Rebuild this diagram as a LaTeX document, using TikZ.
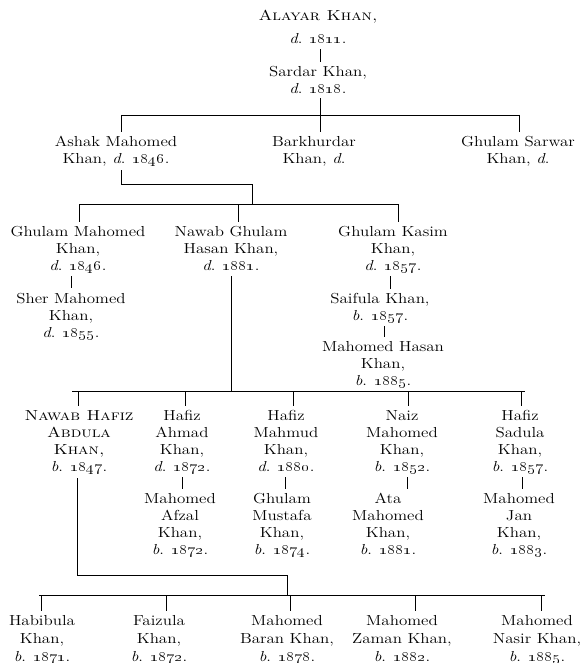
\documentclass[tikz,border=0pt]{standalone}
\usepackage{graphicx}
\newcommand{\nm}[1]{\scalebox{1.17}[1]{\begin{tabular}{@{}c@{}}#1\end{tabular}}}
\newcommand{\yr}[1]{\oldstylenums{#1}}
\begin{document}
\begin{tikzpicture}[x=1pt,y=-1pt,
  p/.style={inner sep=0pt,anchor=north,font=\fontsize{14.5}{17}\selectfont},
  ln/.style={line width=0.75pt},
  tk/.style={ln,shorten <=1pt,shorten >=2pt},
  tkend/.style={ln,shorten >=2pt}]
\fill[white] (0,0) rectangle (584,663);
\useasboundingbox (0,0) rectangle (584,663);
% generation 1-2
\node[p] (alayar) at (318,8) {\nm{\textsc{Alayar Khan,}\\[6pt]\textit{d}. \yr{1811}.}};
\node[p] (sardar) at (318,64) {\nm{Sardar Khan,\\\textit{d}. \yr{1818}.}};
% generation 3
\node[p] (ashak) at (116,134) {\nm{Ashak Mahomed\\Khan, \textit{d}. \yr{1846}.}};
\node[p] (barkh) at (314,134) {\nm{Barkhurdar\\Khan, \textit{d}.}};
\node[p] (sarwar) at (518,134) {\nm{Ghulam Sarwar\\Khan, \textit{d}.}};
% generation 4
\node[p] (gmah) at (78,224) {\nm{Ghulam Mahomed\\Khan,\\\textit{d}. \yr{1846}.}};
\node[p] (sher) at (71,291) {\nm{Sher Mahomed\\Khan,\\\textit{d}. \yr{1855}.}};
\node[p] (nawabg) at (231,224) {\nm{Nawab Ghulam\\Hasan Khan,\\\textit{d}. \yr{1881}.}};
\node[p] (kasim) at (393,224) {\nm{Ghulam Kasim\\Khan,\\\textit{d}. \yr{1857}.}};
\node[p] (saif) at (380,291) {\nm{Saifula Khan,\\\textit{b}. \yr{1857}.}};
\node[p] (mhasan) at (383,339) {\nm{Mahomed Hasan\\Khan,\\\textit{b}. \yr{1885}.}};
% generation 5
\node[p] (abdula) at (79,408) {\nm{\textsc{Nawab Hafiz}\\\textsc{Abdula}\\\textsc{Khan,}\\\textit{b}. \yr{1847}.}};
\node[p] (ahmad) at (182,408) {\nm{Hafiz\\Ahmad\\Khan,\\\textit{d}. \yr{1872}.}};
\node[p] (afzal) at (180,491) {\nm{Mahomed\\Afzal\\Khan,\\\textit{b}. \yr{1872}.}};
\node[p] (mahmud) at (286,408) {\nm{Hafiz\\Mahmud\\Khan,\\\textit{d}. \yr{1880}.}};
\node[p] (mustafa) at (282,491) {\nm{Ghulam\\Mustafa\\Khan,\\\textit{b}. \yr{1874}.}};
\node[p] (naiz) at (402,408) {\nm{Naiz\\Mahomed\\Khan,\\\textit{b}. \yr{1852}.}};
\node[p] (ata) at (388,491) {\nm{Ata\\Mahomed\\Khan,\\\textit{b}. \yr{1881}.}};
\node[p] (sadula) at (520,408) {\nm{Hafiz\\Sadula\\Khan,\\\textit{b}. \yr{1857}.}};
\node[p] (jan) at (519,491) {\nm{Mahomed\\Jan\\Khan,\\\textit{b}. \yr{1883}.}};
% generation 6
\node[p] (habib) at (42,613) {\nm{Habibula\\[1pt]Khan,\\[1pt]\textit{b}. \yr{1871}.}};
\node[p] (faiz) at (159,613) {\nm{Faizula\\[1pt]Khan,\\[1pt]\textit{b}. \yr{1872}.}};
\node[p] (baran) at (287,613) {\nm{Mahomed\\[1pt]Baran Khan,\\[1pt]\textit{b}. \yr{1878}.}};
\node[p] (zaman) at (402,613) {\nm{Mahomed\\[1pt]Zaman Khan,\\[1pt]\textit{b}. \yr{1882}.}};
\node[p] (nasir) at (537,613) {\nm{Mahomed\\[1pt]Nasir Khan,\\[1pt]\textit{b}. \yr{1885}.}};

% coordinates of junctions
\coordinate (j1) at (320,115);
\coordinate (b1l) at (121,115);
\coordinate (b1r) at (519,115);
\coordinate (b2) at (252,184);
\coordinate (b3) at (252,204);
\coordinate (b3l) at (79,204);
\coordinate (b3m) at (238,204);
\coordinate (b3r) at (398,204);
\coordinate (t1) at (71,0);
\coordinate (t2) at (390,0);
\coordinate (t3) at (384,0);
\coordinate (b4m) at (231,391);
\coordinate (b4l) at (72,391);
\coordinate (b4r) at (525,391);
\coordinate (t4a) at (78,391);
\coordinate (t4b) at (185,391);
\coordinate (t4c) at (293,391);
\coordinate (t4d) at (408,391);
\coordinate (t4e) at (521,391);
\coordinate (u1) at (182,0);
\coordinate (u2) at (285,0);
\coordinate (u3) at (407,0);
\coordinate (u4) at (522,0);
\coordinate (b5l) at (77,575);
\coordinate (b5r) at (287,575);
\coordinate (b6m) at (287,595);
\coordinate (b6l) at (39,595);
\coordinate (b6r) at (545,595);
\coordinate (t6a) at (41,595);
\coordinate (t6b) at (166,595);
\coordinate (t6c) at (290,595);
\coordinate (t6d) at (415,595);
\coordinate (t6e) at (541,595);

% connectors
\draw[tk] (alayar.south -| j1) -- (sardar.north -| j1);
\draw[ln] (sardar.south -| j1) -- (j1);
\draw[ln] (b1l) -- (b1r);
\draw[tkend] (b1l) -- (b1l |- ashak.north);
\draw[tkend] (j1) -- (j1 |- barkh.north);
\draw[tkend] (b1r) -- (b1r |- sarwar.north);

\draw[ln,shorten <=2pt] (ashak.south -| b1l) |- (b2) -- (b3);
\draw[ln] (b3l) -- (b3r);
\draw[tkend] (b3l) -- (b3l |- gmah.north);
\draw[tkend] (b3m) -- (b3m |- nawabg.north);
\draw[tkend] (b3r) -- (b3r |- kasim.north);

\draw[tk,shorten >=3pt] (gmah.south -| t1) -- (sher.north -| t1);
\draw[tk] (kasim.south -| t2) -- (saif.north -| t2);
\draw[tk] (saif.south -| t3) -- (mhasan.north -| t3);

\draw[ln,shorten <=1pt] (nawabg.south -| b4m) -- (b4m);
\draw[ln] (b4l) -- (b4r);
\draw[tkend] (t4a) -- (t4a |- abdula.north);
\draw[tkend] (t4b) -- (t4b |- ahmad.north);
\draw[tkend] (t4c) -- (t4c |- mahmud.north);
\draw[tkend] (t4d) -- (t4d |- naiz.north);
\draw[tkend] (t4e) -- (t4e |- sadula.north);

\draw[tk] (ahmad.south -| u1) -- (afzal.north -| u1);
\draw[tk] (mahmud.south -| u2) -- (mustafa.north -| u2);
\draw[tk] (naiz.south -| u3) -- (ata.north -| u3);
\draw[tk] (sadula.south -| u4) -- (jan.north -| u4);

\draw[ln,shorten <=2pt] (abdula.south -| b5l) |- (b5r) -- (b6m);
\draw[ln] (b6l) -- (b6r);
\draw[tkend] (t6a) -- (t6a |- habib.north);
\draw[tkend] (t6b) -- (t6b |- faiz.north);
\draw[tkend] (t6c) -- (t6c |- baran.north);
\draw[tkend] (t6d) -- (t6d |- zaman.north);
\draw[tkend] (t6e) -- (t6e |- nasir.north);
\end{tikzpicture}
\end{document}
